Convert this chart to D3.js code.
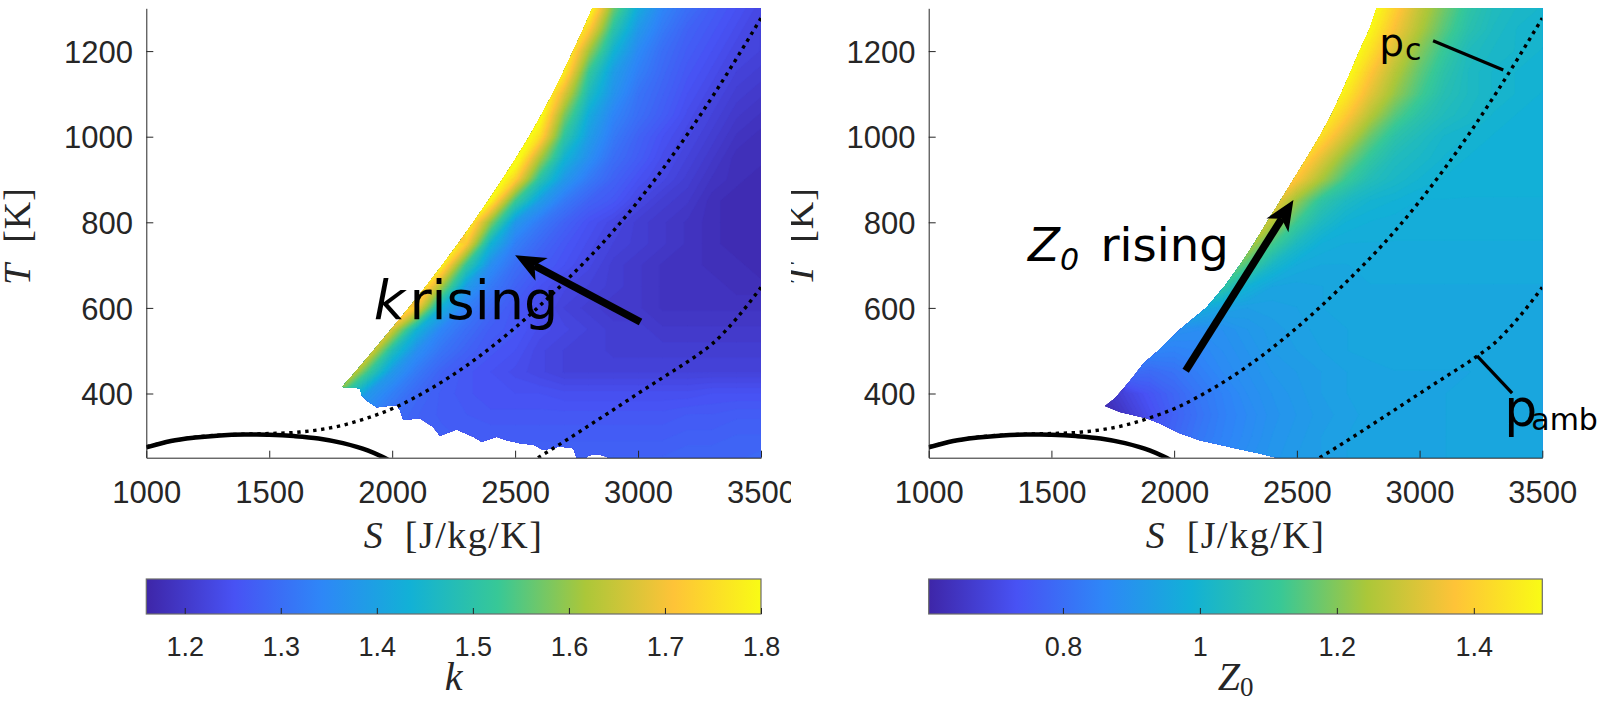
<!DOCTYPE html>
<html>
<head>
<meta charset="utf-8">
<script src="https://cdn.jsdelivr.net/npm/d3@7"></script>
<style>
  html, body { margin: 0; padding: 0; background: #ffffff; }
  svg { display: block; }
</style>
</head>
<body>
<svg id="fig" width="1607" height="703"></svg>
<script>
// ---------------------------------------------------------------------------
// Sampling grid of the property maps (entropy S in J/kg/K, temperature T in K)
// ---------------------------------------------------------------------------
const gridS = [1600, 1700, 1800, 1900, 2000, 2100, 2200, 2300, 2400, 2500,
               2600, 2700, 2800, 2900, 3000, 3100, 3200, 3300, 3400, 3500];
const gridT = [250, 300, 350, 400, 450, 500, 550, 600, 650, 700, 750,
               800, 850, 900, 950, 1000, 1050, 1100, 1150, 1200, 1250, 1300];

// Isentropic exponent k, one row per temperature (T ascending), null = no data
const kField = [
  [1.55,1.43,1.36,1.32,1.30,1.29,1.285,1.28,1.28,1.28,1.28,1.28,1.28,1.28,1.28,1.28,1.285,1.285,1.285,1.29],
  [1.62,1.44,1.36,1.31,1.29,1.28,1.275,1.27,1.27,1.27,1.27,1.27,1.27,1.27,1.27,1.27,1.275,1.275,1.28,1.28],
  [1.72,1.58,1.40,1.34,1.30,1.28,1.27,1.265,1.26,1.26,1.26,1.26,1.26,1.26,1.26,1.26,1.265,1.265,1.27,1.27],
  [null,1.69,1.52,1.38,1.33,1.29,1.27,1.26,1.25,1.25,1.25,1.245,1.245,1.245,1.245,1.245,1.245,1.25,1.25,1.25],
  [null,null,1.73,1.53,1.38,1.32,1.28,1.26,1.25,1.24,1.23,1.22,1.22,1.22,1.22,1.22,1.22,1.22,1.22,1.22],
  [null,null,1.83,1.70,1.48,1.36,1.31,1.28,1.26,1.25,1.23,1.22,1.22,1.21,1.21,1.21,1.21,1.21,1.21,1.21],
  [null,null,null,1.80,1.66,1.44,1.34,1.30,1.27,1.26,1.24,1.23,1.22,1.21,1.21,1.20,1.20,1.20,1.20,1.20],
  [null,null,null,null,1.86,1.70,1.43,1.33,1.29,1.26,1.24,1.22,1.21,1.20,1.20,1.19,1.19,1.19,1.19,1.19],
  [null,null,null,null,null,1.83,1.61,1.39,1.32,1.28,1.25,1.23,1.22,1.21,1.20,1.19,1.19,1.19,1.18,1.18],
  [null,null,null,null,null,1.90,1.79,1.52,1.36,1.30,1.27,1.25,1.23,1.21,1.20,1.19,1.19,1.18,1.18,1.17],
  [null,null,null,null,null,null,1.87,1.72,1.44,1.33,1.29,1.26,1.24,1.22,1.21,1.20,1.19,1.18,1.17,1.17],
  [null,null,null,null,null,null,null,1.82,1.59,1.38,1.32,1.28,1.25,1.23,1.21,1.20,1.19,1.18,1.17,1.17],
  [null,null,null,null,null,null,null,1.89,1.79,1.53,1.39,1.32,1.28,1.26,1.23,1.21,1.20,1.18,1.17,1.17],
  [null,null,null,null,null,null,null,null,1.88,1.73,1.50,1.38,1.32,1.28,1.25,1.23,1.21,1.19,1.18,1.17],
  [null,null,null,null,null,null,null,null,1.92,1.84,1.62,1.44,1.36,1.30,1.27,1.24,1.22,1.20,1.18,1.18],
  [null,null,null,null,null,null,null,null,null,1.88,1.75,1.51,1.39,1.32,1.28,1.25,1.23,1.21,1.19,1.18],
  [null,null,null,null,null,null,null,null,null,1.91,1.82,1.58,1.42,1.34,1.30,1.27,1.24,1.22,1.20,1.19],
  [null,null,null,null,null,null,null,null,null,null,1.86,1.67,1.47,1.37,1.31,1.28,1.25,1.23,1.21,1.20],
  [null,null,null,null,null,null,null,null,null,null,1.89,1.77,1.52,1.39,1.33,1.29,1.26,1.24,1.22,1.21],
  [null,null,null,null,null,null,null,null,null,null,1.92,1.83,1.61,1.44,1.35,1.30,1.27,1.25,1.23,1.22],
  [null,null,null,null,null,null,null,null,null,null,null,1.87,1.72,1.50,1.38,1.32,1.28,1.26,1.24,1.22],
  [null,null,null,null,null,null,null,null,null,null,null,1.90,1.82,1.57,1.42,1.34,1.30,1.27,1.25,1.23]
];

// Compressibility factor Z0, same grid
const z0Field = [
  [null,null,0.70,0.76,0.80,0.84,0.86,0.885,0.905,0.92,0.93,0.94,0.945,0.95,0.95,0.95,0.955,0.955,0.96,0.96],
  [null,0.62,0.68,0.74,0.78,0.82,0.85,0.875,0.90,0.915,0.93,0.94,0.945,0.95,0.95,0.95,0.955,0.955,0.96,0.96],
  [0.58,0.60,0.66,0.72,0.77,0.81,0.845,0.87,0.895,0.91,0.925,0.935,0.945,0.95,0.95,0.95,0.955,0.955,0.955,0.955],
  [0.58,0.63,0.69,0.74,0.78,0.82,0.85,0.88,0.90,0.915,0.93,0.94,0.945,0.95,0.95,0.95,0.955,0.955,0.955,0.955],
  [null,null,0.80,0.79,0.81,0.84,0.87,0.89,0.91,0.92,0.93,0.94,0.945,0.95,0.95,0.95,0.95,0.955,0.955,0.955],
  [null,null,0.92,0.86,0.85,0.86,0.88,0.90,0.92,0.93,0.94,0.95,0.955,0.955,0.955,0.955,0.955,0.955,0.955,0.955],
  [null,null,null,0.93,0.89,0.88,0.89,0.91,0.925,0.935,0.945,0.95,0.955,0.955,0.955,0.955,0.955,0.955,0.955,0.955],
  [null,null,null,null,1.02,0.98,0.94,0.93,0.935,0.94,0.95,0.955,0.96,0.96,0.96,0.96,0.96,0.96,0.96,0.96],
  [null,null,null,null,null,1.16,1.09,0.99,0.95,0.945,0.95,0.955,0.96,0.96,0.96,0.96,0.96,0.96,0.96,0.96],
  [null,null,null,null,null,null,1.24,1.13,1.02,0.97,0.96,0.96,0.965,0.965,0.965,0.965,0.965,0.965,0.965,0.965],
  [null,null,null,null,null,null,1.35,1.27,1.13,1.03,0.98,0.97,0.97,0.97,0.97,0.97,0.97,0.97,0.97,0.97],
  [null,null,null,null,null,null,null,1.37,1.26,1.12,1.03,0.99,0.98,0.975,0.975,0.975,0.975,0.975,0.975,0.975],
  [null,null,null,null,null,null,null,1.45,1.37,1.22,1.09,1.03,1.00,0.99,0.98,0.98,0.98,0.98,0.98,0.98],
  [null,null,null,null,null,null,null,null,1.47,1.37,1.24,1.12,1.05,1.02,1.00,0.99,0.985,0.985,0.985,0.985],
  [null,null,null,null,null,null,null,null,1.55,1.46,1.33,1.20,1.10,1.04,1.02,1.00,0.99,0.985,0.985,0.985],
  [null,null,null,null,null,null,null,null,null,1.53,1.43,1.30,1.17,1.08,1.04,1.01,1.00,0.99,0.99,0.99],
  [null,null,null,null,null,null,null,null,null,1.58,1.50,1.39,1.26,1.15,1.08,1.04,1.02,1.00,0.99,0.99],
  [null,null,null,null,null,null,null,null,null,null,1.56,1.46,1.33,1.22,1.13,1.06,1.03,1.01,1.00,0.99],
  [null,null,null,null,null,null,null,null,null,null,1.61,1.52,1.38,1.26,1.16,1.08,1.03,1.01,1.00,1.00],
  [null,null,null,null,null,null,null,null,null,null,null,1.56,1.44,1.31,1.20,1.11,1.04,1.02,1.01,1.00],
  [null,null,null,null,null,null,null,null,null,null,null,1.60,1.49,1.36,1.25,1.15,1.07,1.03,1.01,1.01],
  [null,null,null,null,null,null,null,null,null,null,null,1.62,1.53,1.40,1.28,1.18,1.09,1.04,1.02,1.01]
];

// Outline of the valid region of each map (upper-left rim, then lower rim)
const kRimS = [2814, 2776, 2736, 2695, 2652, 2606, 2557, 2504, 2448, 2390, 2330, 2268, 2204, 2137, 2067,
               1996, 1923, 1850, 1796, 1869, 1876, 1903, 1937, 2018, 2032, 2045, 2113, 2167, 2194, 2262,
               2330, 2364, 2425, 2466, 2520, 2574, 2615, 2682, 2737, 2750, 2790, 2800, 2840, 2870, 2880];
const kRimT = [1300, 1250, 1200, 1150, 1100, 1050, 1000, 950, 900, 850, 800, 750, 700, 650, 600,
               550, 500, 450, 415, 412, 396, 381, 368, 373, 361, 338, 342, 322, 301, 316,
               299, 287, 299, 291, 284, 280, 268, 276, 272, 250, 250, 256, 258, 253, 250];
const zRimS = [2825, 2795, 2755, 2718, 2680, 2640, 2592, 2540, 2486, 2432, 2378, 2325, 2268, 2205, 2130,
               2025, 1935, 1875, 1834, 1800, 1759, 1718, 1779, 1888, 1942, 2024, 2105, 2187, 2268, 2350,
               2404, 2420];
const zRimT = [1300, 1250, 1200, 1150, 1100, 1050, 1000, 950, 900, 850, 800, 750, 700, 650, 600,
               550, 500, 470, 439, 416, 389, 371, 357, 342, 330, 307, 291, 280, 270, 260,
               252, 250];

// Saturation dome and the two isobars
const domeS = [1000, 1100, 1200, 1300, 1400, 1450, 1500, 1600, 1700, 1800, 1900, 1960, 1990];
const domeT = [274, 289, 297, 302, 304, 304.2, 303.5, 300.5, 295, 284, 267, 252, 243];
const pcS = [1000, 1200, 1400, 1500, 1625, 1800, 1900, 2018, 2100, 2235, 2480, 2690, 2897, 3105, 3313, 3500];
const pcT = [276, 298, 305, 306.5, 310, 326, 343, 369, 393, 439, 544, 654, 778, 928, 1103, 1277];
const pambS = [2593, 2700, 2800, 2918, 3000, 3100, 3234, 3300, 3400, 3500];
const pambT = [250, 288, 325, 369, 400, 437, 487, 515, 575, 648];

// Axis ticks
const sTicks = [1000, 1500, 2000, 2500, 3000, 3500];
const tTicks = [400, 600, 800, 1000, 1200];
const kTicks = [1.2, 1.3, 1.4, 1.5, 1.6, 1.7, 1.8];
const zTicks = [0.8, 1, 1.2, 1.4];
const kLimits = [1.16, 1.8];
const zLimits = [0.604, 1.5];
const sLimits = [1000, 3500];
const tLimits = [250, 1300];

// ---------------------------------------------------------------------------
// Styling / layout
// ---------------------------------------------------------------------------
const parula = ['#3e26a8', '#4852f4', '#2e87f7', '#12b1d6', '#37c897', '#abc739', '#fec338', '#f9fb15'];
const INK = '#262626';
const SANS = '"Liberation Sans", Arial, Helvetica, sans-serif';
const SERIF = '"Liberation Serif", "Times New Roman", serif';
const NOTE = '"DejaVu Sans", sans-serif';
const PLOT_TOP = 8.3, PLOT_BOT = 457.7;
const CB_TOP = 579, CB_BOT = 614;

const svg = d3.select('#fig');
const defs = svg.append('defs');

function colorScale(lim) {
  const dom = parula.map((_, i) => lim[0] + (lim[1] - lim[0]) * i / (parula.length - 1));
  return d3.scaleLinear().domain(dom).range(parula).interpolate(d3.interpolateRgb).clamp(true);
}

function panel(opt) {
  const root = svg.append('g');
  defs.append('clipPath').attr('id', opt.id + '-img')
    .append('rect').attr('x', opt.clip[0]).attr('y', 0)
    .attr('width', opt.clip[1] - opt.clip[0]).attr('height', 703);
  root.attr('clip-path', `url(#${opt.id}-img)`);

  const x = d3.scaleLinear().domain(sLimits).range([opt.x0, opt.x1]);
  const y = d3.scaleLinear().domain(tLimits).range([PLOT_BOT, PLOT_TOP]);
  const color = colorScale(opt.lim);

  // clip: plot box
  defs.append('clipPath').attr('id', opt.id + '-box')
    .append('rect').attr('x', opt.x0).attr('y', PLOT_TOP)
    .attr('width', opt.x1 - opt.x0).attr('height', PLOT_BOT - PLOT_TOP);
  // clip: valid region of the map
  const rim = opt.rimS.map((s, i) => [x(s), y(opt.rimT[i])]);
  rim.push([opt.x1 + 30, PLOT_BOT + 30], [opt.x1 + 30, PLOT_TOP - 30], [rim[0][0], PLOT_TOP - 30]);
  defs.append('clipPath').attr('id', opt.id + '-rim')
    .append('path').attr('d', d3.line()(rim) + 'Z');

  const box = root.append('g').attr('clip-path', `url(#${opt.id}-box)`);
  const field = box.append('g').attr('clip-path', `url(#${opt.id}-rim)`);

  // filled contour levels
  const n = gridS.length, m = gridT.length;
  const dS = gridS[1] - gridS[0], dT = gridT[1] - gridT[0];
  const nLev = 90;
  const levels = d3.range(nLev).map(i => opt.lim[0] - 0.02 + (opt.lim[1] + 0.02 - opt.lim[0]) * i / nLev);
  const step = levels[1] - levels[0];
  const bands = d3.contours().size([n, m]).thresholds(levels)(opt.field.flat());
  const proj = d3.geoTransform({
    point(px, py) { this.stream.point(x(gridS[0] + (px - 0.5) * dS), y(gridT[0] + (py - 0.5) * dT)); }
  });
  const gp = d3.geoPath(proj);
  field.selectAll('path').data(bands).join('path')
    .attr('d', gp)
    .attr('fill', d => color(d.value + step / 2))
    .attr('stroke', d => color(d.value + step / 2))
    .attr('stroke-width', 0.6);

  // dome and isobars
  const line = d3.line().x(d => x(d[0])).y(d => y(d[1])).curve(d3.curveMonotoneX);
  box.append('path').attr('d', line(domeS.map((s, i) => [s, domeT[i]])))
    .attr('fill', 'none').attr('stroke', '#000').attr('stroke-width', 4.5);
  [[pcS, pcT], [pambS, pambT]].forEach(([ss, tt]) => {
    box.append('path').attr('d', line(ss.map((s, i) => [s, tt[i]])))
      .attr('fill', 'none').attr('stroke', '#000').attr('stroke-width', 3.4)
      .attr('stroke-dasharray', '3.4 4.6');
  });

  // axes (inward ticks, no box)
  const ax = root.append('g').attr('transform', `translate(0,${PLOT_BOT})`)
    .call(d3.axisBottom(x).tickValues(sTicks).tickSizeInner(-7).tickSizeOuter(0).tickFormat(d3.format('d')));
  ax.selectAll('text').attr('y', 45.6).attr('dy', 0);
  const ay = root.append('g').attr('transform', `translate(${opt.x0},0)`)
    .call(d3.axisLeft(y).tickValues(tTicks).tickSizeInner(-7).tickSizeOuter(0).tickFormat(d3.format('d')));
  ay.selectAll('text').attr('x', -13.3).attr('dy', '0.36em');
  [ax, ay].forEach(a => {
    a.attr('font-family', SANS).attr('font-size', 31);
    a.selectAll('text').attr('fill', INK);
    a.selectAll('line').attr('stroke', INK);
    a.select('.domain').attr('stroke', INK).attr('stroke-width', 1);
  });

  // axis titles
  const sLab = root.append('text').attr('x', (opt.x0 + opt.x1) / 2).attr('y', 548)
    .attr('text-anchor', 'middle').attr('font-family', SERIF).attr('font-size', 38)
    .attr('letter-spacing', 1.5).attr('fill', INK);
  sLab.append('tspan').attr('font-style', 'italic').text('S');
  sLab.append('tspan').text('\u2002[J/kg/K]');
  const tLab = root.append('text')
    .attr('transform', `translate(${opt.x0 - 116},${(PLOT_TOP + PLOT_BOT) / 2 + 3}) rotate(-90)`)
    .attr('text-anchor', 'middle').attr('font-family', SERIF).attr('font-size', 38)
    .attr('letter-spacing', 1).attr('fill', INK);
  tLab.append('tspan').attr('font-style', 'italic').text('T');
  tLab.append('tspan').text('\u2002[K]');

  // colorbar
  const gid = opt.id + '-grad';
  const grad = defs.append('linearGradient').attr('id', gid);
  parula.forEach((c, i) => grad.append('stop').attr('offset', i / (parula.length - 1)).attr('stop-color', c));
  root.append('rect').attr('x', opt.x0).attr('y', CB_TOP).attr('width', opt.x1 - opt.x0)
    .attr('height', CB_BOT - CB_TOP).attr('fill', `url(#${gid})`)
    .attr('stroke', '#6b6b6b').attr('stroke-width', 1.2);
  const cx = d3.scaleLinear().domain(opt.lim).range([opt.x0, opt.x1]);
  const cax = root.append('g').attr('transform', `translate(0,${CB_BOT})`)
    .call(d3.axisBottom(cx).tickValues(opt.ticks).tickSizeInner(-6).tickSizeOuter(0).tickFormat(d3.format('')));
  cax.select('.domain').remove();
  cax.attr('font-family', SANS).attr('font-size', 27);
  cax.selectAll('text').attr('y', 42).attr('dy', 0).attr('fill', INK);
  cax.selectAll('line').attr('stroke', INK);

  const cLab = root.append('text').attr('x', (opt.x0 + opt.x1) / 2).attr('y', 690)
    .attr('text-anchor', 'middle').attr('font-family', SERIF).attr('font-size', 40).attr('fill', INK);
  opt.cbTitle(cLab);

  return { root, box, x, y };
}

// arrow with a swept-back head, drawn in pixel space from data end points
function arrow(g, x, y, from, to, width) {
  const x0 = x(from[0]), y0 = y(from[1]), x1 = x(to[0]), y1 = y(to[1]);
  const a = Math.atan2(y1 - y0, x1 - x0);
  const L = 30, Wd = 13, back = 8;
  const ux = Math.cos(a), uy = Math.sin(a), nx = -uy, ny = ux;
  g.append('line').attr('x1', x0).attr('y1', y0)
    .attr('x2', x1 - ux * (L - back)).attr('y2', y1 - uy * (L - back))
    .attr('stroke', '#000').attr('stroke-width', width);
  const head = [
    [x1, y1],
    [x1 - ux * L + nx * Wd, y1 - uy * L + ny * Wd],
    [x1 - ux * (L - back), y1 - uy * (L - back)],
    [x1 - ux * L - nx * Wd, y1 - uy * L - ny * Wd]
  ];
  g.append('path').attr('d', d3.line()(head) + 'Z').attr('fill', '#000');
}

// ---------------------------------------------------------------------------
// Left: isentropic exponent
// ---------------------------------------------------------------------------
const left = panel({
  id: 'kmap', x0: 146.3, x1: 761, clip: [0, 791], field: kField, lim: kLimits, ticks: kTicks,
  rimS: kRimS, rimT: kRimT,
  cbTitle: t => t.append('tspan').attr('font-style', 'italic').text('k')
});
arrow(left.root, left.x, left.y, [3010, 567], [2500, 723], 7.5);
{
  const g = left.root.append('g').attr('font-family', NOTE).attr('font-size', 54).attr('fill', '#000');
  g.append('text').attr('x', left.x(1925)).attr('y', left.y(574)).attr('font-style', 'italic').text('k');
  g.append('text').attr('x', left.x(2070)).attr('y', left.y(574)).text('rising');
}

// ---------------------------------------------------------------------------
// Right: compressibility factor
// ---------------------------------------------------------------------------
const right = panel({
  id: 'zmap', x0: 928.7, x1: 1542.3, clip: [791, 1607], field: z0Field, lim: zLimits, ticks: zTicks,
  rimS: zRimS, rimT: zRimT,
  cbTitle: t => {
    t.append('tspan').attr('font-style', 'italic').text('Z');
    t.append('tspan').attr('font-size', 27).attr('dy', 6).text('0');
  }
});
arrow(right.root, right.x, right.y, [2047, 453], [2486, 852], 7.5);
{
  const g = right.root.append('g').attr('font-family', NOTE).attr('fill', '#000');
  const z = g.append('text').attr('font-size', 46.5).attr('font-style', 'italic');
  z.append('tspan').attr('x', right.x(1405)).attr('y', right.y(710)).text('Z');
  z.append('tspan').attr('font-size', 30).attr('dy', 9).text('0');
  g.append('text').attr('font-size', 46.5).attr('x', right.x(1700)).attr('y', right.y(710)).text('rising');

  g.append('line').attr('x1', right.x(3055)).attr('y1', right.y(1224))
    .attr('x2', right.x(3341)).attr('y2', right.y(1156)).attr('stroke', '#000').attr('stroke-width', 3.2);
  g.append('line').attr('x1', right.x(3234)).attr('y1', right.y(488))
    .attr('x2', right.x(3377)).attr('y2', right.y(401)).attr('stroke', '#000').attr('stroke-width', 3.2);

  const pc = g.append('text');
  pc.append('tspan').attr('x', right.x(2836)).attr('y', right.y(1188)).attr('font-size', 39).text('p');
  pc.append('tspan').attr('font-size', 30).attr('dx', 1).attr('dy', 4).text('c');

  const pa = g.append('text');
  pa.append('tspan').attr('x', right.x(3345)).attr('y', right.y(324)).attr('font-size', 52).text('p');
  pa.append('tspan').attr('font-size', 30).attr('dx', -6).attr('dy', 4).text('amb');
}
</script>
</body>
</html>
